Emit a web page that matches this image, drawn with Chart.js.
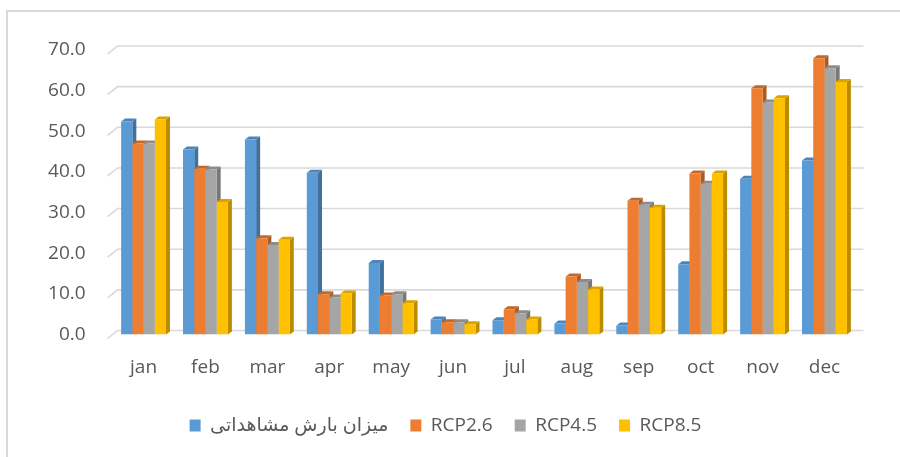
<!DOCTYPE html>
<html>
<head>
<meta charset="utf-8">
<script src="https://cdn.jsdelivr.net/npm/chart.js@4"></script>
<style>
html,body{margin:0;padding:0;background:#fff;}
canvas{display:block;}
</style>
</head>
<body>
<canvas id="c" width="900" height="457"></canvas>
<script>
const months = ['jan','feb','mar','apr','may','jun','jul','aug','sep','oct','nov','dec'];
const seriesNames = ['میزان بارش مشاهداتی','RCP2.6','RCP4.5','RCP8.5'];
const observed = [52.4, 45.5, 48.0, 39.8, 17.6, 3.7, 3.5, 2.7, 2.2, 17.3, 38.3, 42.8];
const rcp26    = [47.0, 40.8, 23.7,  9.9,  9.6, 3.0, 6.2, 14.3, 32.9, 39.6, 60.6, 68.0];
const rcp45    = [47.0, 40.6, 22.0,  9.1,  9.9, 3.0, 5.2, 12.9, 31.9, 37.1, 57.1, 65.5];
const rcp85    = [52.9, 32.6, 23.3, 10.1,  7.7, 2.5, 3.7, 11.1, 31.2, 39.6, 58.1, 62.1];
const yTicks   = [0, 10, 20, 30, 40, 50, 60, 70];

const frontColors = ['#5B9BD5','#ED7D31','#A5A5A5','#FFC000'];
const sideColors  = ['#41719C','#AE5A21','#787878','#BC8C00'];
const topColors   = ['#4A84BA','#C4682A','#8C8C8C','#D9A300'];
const DX = 4, DY = 3;
const FONT = "'Open Sans', 'DejaVu Sans', sans-serif";

const frame = {
  id: 'frame',
  beforeDraw(chart) {
    const ctx = chart.ctx;
    ctx.save();
    ctx.fillStyle = '#fff';
    ctx.fillRect(0, 0, chart.width, chart.height);
    ctx.strokeStyle = '#d9d9d9';
    ctx.lineWidth = 2;
    ctx.strokeRect(7, 11, 1000, 1000);
    ctx.restore();
  }
};

const depth3d = {
  id: 'depth3d',
  beforeDatasetsDraw(chart) {
    const ctx = chart.ctx, ys = chart.scales.y, a = chart.chartArea;
    ctx.save();
    ctx.strokeStyle = '#d9d9d9';
    ctx.lineWidth = 1.6;
    yTicks.forEach(v => {
      const py = ys.getPixelForValue(v);
      ctx.beginPath();
      ctx.moveTo(a.left - 5, py + 4);
      ctx.lineTo(a.left + 5, py - 4);
      ctx.lineTo(a.right + 8, py - 4);
      ctx.stroke();
    });
    const n = chart.data.labels.length;
    for (let i = 0; i < n; i++) {
      for (let d = 0; d < chart.data.datasets.length; d++) {
        const el = chart.getDatasetMeta(d).data[i];
        const p = el.getProps(['x','y','base','width'], true);
        const l = p.x - p.width / 2, r = p.x + p.width / 2, top = p.y, base = p.base;
        ctx.fillStyle = sideColors[d];
        ctx.beginPath();
        ctx.moveTo(r, top); ctx.lineTo(r + DX, top - DY);
        ctx.lineTo(r + DX, base - DY); ctx.lineTo(r, base);
        ctx.closePath(); ctx.fill();
        ctx.fillStyle = topColors[d];
        ctx.beginPath();
        ctx.moveTo(l, top); ctx.lineTo(l + DX, top - DY);
        ctx.lineTo(r + DX, top - DY); ctx.lineTo(r, top);
        ctx.closePath(); ctx.fill();
      }
    }
    ctx.restore();
  }
};

const seriesData = [observed, rcp26, rcp45, rcp85];
new Chart(document.getElementById('c'), {
  type: 'bar',
  data: {
    labels: months,
    datasets: seriesData.map((d, i) => ({
      label: seriesNames[i],
      data: d,
      backgroundColor: frontColors[i],
      borderWidth: 0,
      categoryPercentage: 0.725,
      barPercentage: 1.0
    }))
  },
  options: {
    responsive: false,
    animation: false,
    devicePixelRatio: 1,
    layout: { padding: { left: 35.6, top: 50, right: 44.6, bottom: 12 } },
    scales: {
      x: {
        grid: { display: false, drawTicks: false },
        border: { display: false },
        ticks: { color: '#595959', font: { family: FONT, size: 19 }, padding: 22 },
        afterFit(s) { s.height = 59.5; }
      },
      y: {
        min: 0, max: 70,
        grid: { display: false, drawTicks: false },
        border: { display: false },
        ticks: {
          stepSize: 10, color: '#595959', padding: 27,
          font: { family: FONT, size: 19 },
          callback: v => Number(v).toFixed(1)
        },
        afterFit(s) { s.width = 77; }
      }
    },
    plugins: {
      legend: {
        position: 'bottom',
        labels: {
          color: '#595959', boxWidth: 11, boxHeight: 12, padding: 22,
          font: { family: FONT, size: 19 }
        }
      },
      tooltip: { enabled: false }
    }
  },
  plugins: [frame, depth3d]
});
</script>
</body>
</html>
